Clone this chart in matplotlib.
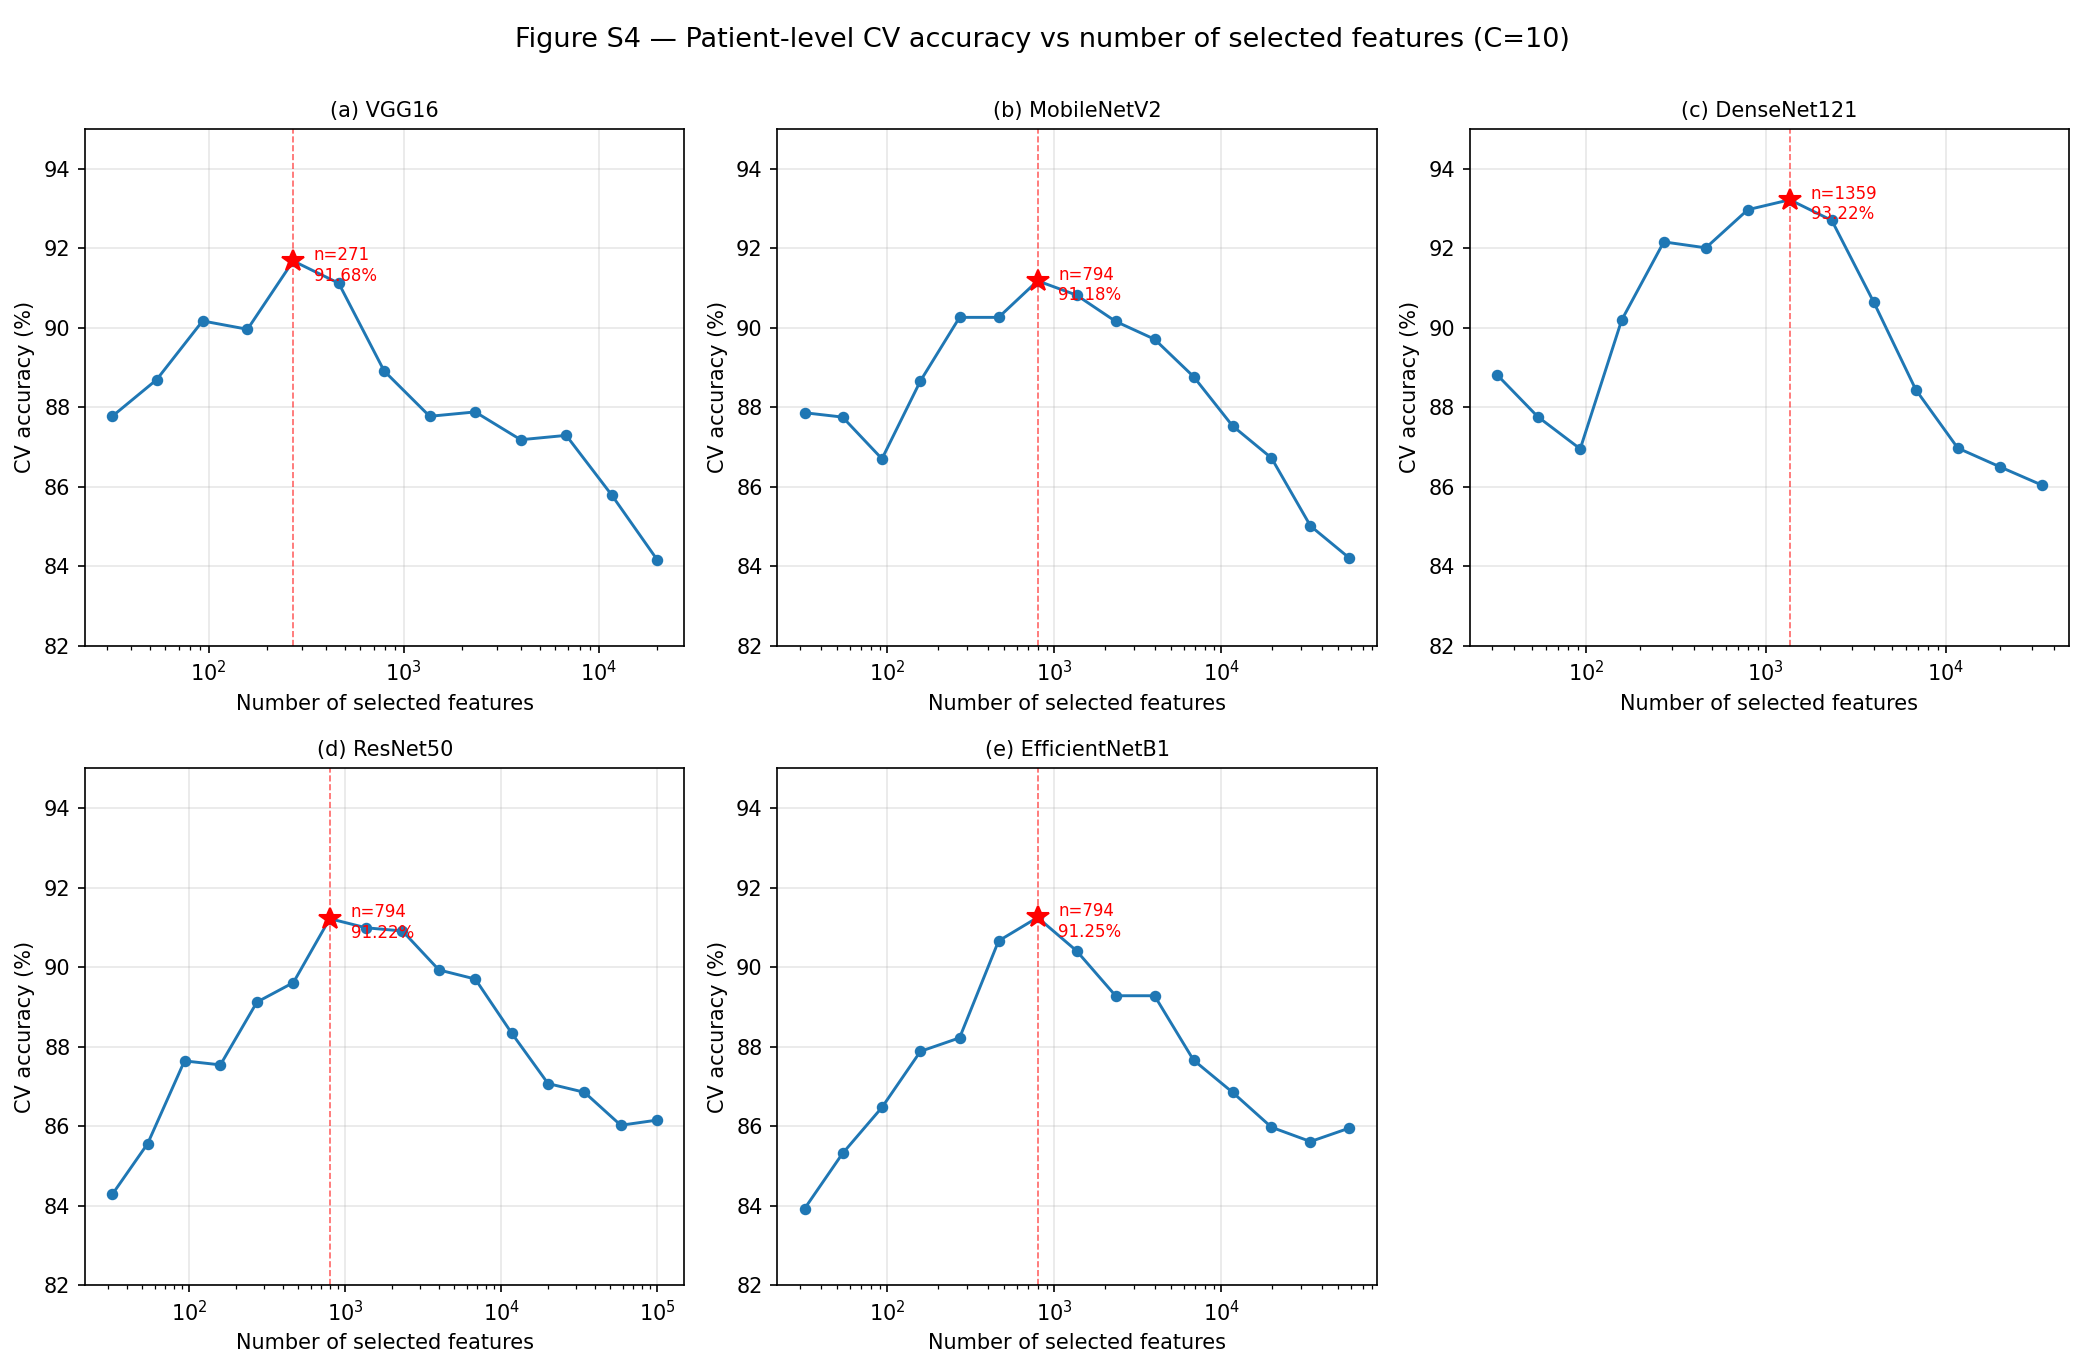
import numpy as np
import matplotlib
matplotlib.use("Agg")
import matplotlib.pyplot as plt

# feature counts tried in the sweep (shared grid, each backbone stops at its own size)
n_grid = [32, 54, 93, 158, 271, 464, 794, 1359, 2326, 3981, 6813, 11659, 19953, 34145, 58434, 100000]

models = ["(a) VGG16", "(b) MobileNetV2", "(c) DenseNet121", "(d) ResNet50", "(e) EfficientNetB1"]

acc_vgg16 = [87.77, 88.69, 90.17, 89.96, 91.68, 91.12, 88.91, 87.77, 87.88, 87.18, 87.29, 85.79, 84.16]
acc_mobilenetv2 = [87.86, 87.75, 86.70, 88.66, 90.26, 90.26, 91.18, 90.82, 90.16, 89.71, 88.77, 87.53,
                   86.72, 85.01, 84.20]
acc_densenet121 = [88.82, 87.76, 86.95, 90.19, 92.16, 92.01, 92.97, 93.22, 92.70, 90.64, 88.44, 86.97,
                   86.50, 86.04]
acc_resnet50 = [84.28, 85.56, 87.64, 87.54, 89.12, 89.61, 91.22, 90.99, 90.91, 89.93, 89.70, 88.34,
                87.07, 86.85, 86.02, 86.15]
acc_efficientnetb1 = [83.92, 85.31, 86.47, 87.88, 88.22, 90.66, 91.25, 90.41, 89.28, 89.28, 87.66, 86.85,
                      85.97, 85.61, 85.95]

all_acc = [acc_vgg16, acc_mobilenetv2, acc_densenet121, acc_resnet50, acc_efficientnetb1]

fig, axes = plt.subplots(2, 3, figsize=(2084 / 150, 1367 / 150), dpi=150)
fig.subplots_adjust(left=0.0408, right=0.9928, top=0.9056, bottom=0.06, wspace=0.155, hspace=0.238)

for ax, title, acc in zip(axes.flat, models, all_acc):
    n = n_grid[:len(acc)]
    ax.plot(n, acc, "-o", color="#1f77b4", lw=1.4, ms=4.5)
    best = int(np.argmax(acc))
    bn, ba = n[best], acc[best]
    ax.axvline(bn, color="red", ls="--", lw=0.8, alpha=0.6)
    ax.plot([bn], [ba], marker="*", color="red", ms=11, ls="none", zorder=5)
    ax.annotate("n=%d\n%.2f%%" % (bn, ba), (bn, ba), xytext=(10, -2), textcoords="offset points",
                va="center", ha="left", fontsize=8, color="red")
    ax.set_xscale("log")
    ax.set_ylim(82, 95)
    ax.grid(True, alpha=0.3)
    ax.set_title(title, fontsize=10)
    ax.set_xlabel("Number of selected features", fontsize=10)
    ax.set_ylabel("CV accuracy (%)", fontsize=10)

axes.flat[5].axis("off")

fig.suptitle("Figure S4 \u2014 Patient-level CV accuracy vs number of selected features (C=10)",
             fontsize=13, y=0.98)
fig.savefig("out.png", dpi=150)
